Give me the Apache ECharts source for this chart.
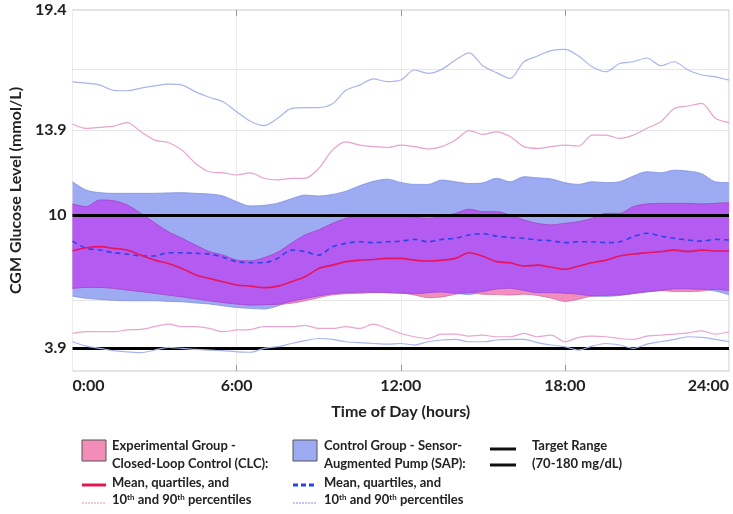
<!DOCTYPE html>
<html>
<head>
<meta charset="utf-8">
<script src="https://cdn.jsdelivr.net/npm/echarts@6/dist/echarts.min.js"></script>
<style>
html,body{margin:0;padding:0;background:#fff;}
#chart{width:733px;height:514px;}
</style>
</head>
<body>
<div id="chart"></div>
<script>
// Time of day (hours)
const hours = [0,0.5,1,1.5,2,2.5,3,3.5,4,4.5,5,5.5,6,6.5,7,7.5,8,8.5,9,9.5,10,10.5,11,11.5,12,12.5,13,13.5,14,14.5,15,15.5,16,16.5,17,17.5,18,18.5,19,19.5,20,20.5,21,21.5,22,22.5,23,23.5,24];

// Control group (SAP)
const sapP90 = [16.11,16.05,15.96,15.72,15.7,15.82,15.92,16.0,15.96,15.65,15.4,15.2,14.74,14.3,14.1,14.44,14.89,14.93,14.93,15.1,15.73,15.96,16.24,16.12,16.19,16.65,16.5,16.68,17.11,17.44,16.85,16.53,16.27,17.03,17.29,17.54,17.6,17.29,16.8,16.57,16.95,17.03,17.2,16.85,17.03,16.65,16.42,16.34,16.19];
const sapP75 = [11.53,11.15,11.03,11.0,11.0,11.0,11.0,11.02,11.03,11.0,10.97,10.88,10.62,10.42,10.45,10.55,10.75,10.92,10.88,10.95,11.1,11.35,11.55,11.65,11.5,11.41,11.41,11.61,11.53,11.45,11.48,11.69,11.53,11.76,11.71,11.66,11.49,11.41,11.53,11.49,11.53,11.79,11.99,11.94,12.06,12.02,11.9,11.53,11.49];
const sapMean = [8.81,8.48,8.4,8.28,8.22,8.13,8.13,8.28,8.28,8.25,8.22,8.07,7.87,7.82,7.82,8.02,8.4,8.33,8.17,8.55,8.71,8.78,8.74,8.78,8.81,8.89,8.78,8.89,8.94,9.09,9.15,9.04,8.98,8.94,8.86,8.83,8.74,8.78,8.78,8.74,8.78,9.01,9.17,9.04,8.94,8.86,8.81,8.89,8.86];
const sapP25 = [6.29,6.19,6.14,6.1,6.08,6.08,6.08,6.05,6.03,5.98,5.93,5.85,5.77,5.73,5.70,5.84,6.05,6.18,6.30,6.40,6.45,6.47,6.47,6.45,6.42,6.40,6.45,6.48,6.42,6.36,6.5,6.62,6.65,6.55,6.45,6.45,6.42,6.38,6.30,6.28,6.32,6.40,6.48,6.55,6.62,6.62,6.6,6.52,6.35];
const sapP10 = [4.2,4.0,3.9,3.79,3.74,3.7,3.82,3.94,3.9,3.85,3.82,3.79,3.74,3.72,3.9,3.97,4.12,4.25,4.35,4.31,4.2,4.16,4.12,4.09,4.12,4.05,4.2,4.28,4.31,4.2,4.2,4.28,4.31,4.31,4.16,4.05,3.97,3.82,4.0,4.12,4.05,3.9,4.09,4.2,4.31,4.43,4.4,4.31,4.2];

// Experimental group (CLC)
const clcP90 = [14.18,13.98,14.02,14.08,14.24,13.82,13.44,13.33,12.98,12.37,11.99,11.94,11.84,11.94,11.69,11.62,11.69,11.69,12.14,12.98,13.36,13.21,13.14,13.1,13.21,13.14,13.03,13.14,13.44,13.87,13.7,13.82,13.6,13.14,13.06,13.14,13.21,13.17,13.67,13.67,13.52,13.67,13.98,14.28,14.89,15.0,15.12,14.44,14.24];
const clcP75 = [10.51,10.39,10.69,10.66,10.46,10.08,9.65,9.24,8.94,8.63,8.33,8.17,7.94,7.9,8.05,8.3,8.71,9.09,9.32,9.62,9.85,9.96,9.93,9.96,9.96,9.9,9.85,9.93,10.08,10.27,10.16,10.16,10.0,9.78,9.62,9.55,9.62,9.7,9.85,10.08,10.08,10.39,10.51,10.54,10.54,10.54,10.51,10.54,10.57];
const clcMean = [8.37,8.51,8.56,8.48,8.4,8.17,7.94,7.79,7.56,7.26,7.1,6.95,6.8,6.75,6.68,6.75,6.95,7.18,7.56,7.71,7.87,7.94,7.97,8.02,8.02,7.94,7.9,7.94,8.02,8.28,8.12,7.87,7.82,7.67,7.71,7.61,7.52,7.67,7.82,7.94,8.13,8.22,8.28,8.33,8.4,8.33,8.4,8.36,8.36];
const clcP25 = [6.65,6.69,6.69,6.65,6.57,6.5,6.42,6.34,6.26,6.17,6.08,6.0,5.93,5.88,5.90,5.92,5.96,6.08,6.22,6.35,6.40,6.42,6.45,6.45,6.44,6.34,6.22,6.25,6.38,6.45,6.38,6.36,6.34,6.38,6.32,6.2,6.05,6.15,6.3,6.33,6.35,6.42,6.5,6.55,6.5,6.5,6.52,6.6,6.55];
const clcP10 = [4.58,4.66,4.66,4.66,4.74,4.77,4.89,5.01,4.89,4.89,4.81,4.66,4.74,4.76,4.89,4.89,4.89,4.95,4.81,4.81,4.89,4.81,5.01,4.81,4.58,4.43,4.35,4.55,4.55,4.46,4.5,4.43,4.43,4.58,4.43,4.5,4.2,4.4,4.46,4.43,4.35,4.31,4.46,4.5,4.55,4.61,4.7,4.55,4.66];

// Axis ticks / reference lines
const yTickLabels = [3.9, 10, 13.9, 19.4];
const targetRange = [3.9, 10];
const yGridValues = [6.1, 13.9, 16.67];

const diff = (a, b) => a.map((v, i) => +(v - b[i]).toFixed(3));
const ovLow = hours.map((h, i) => Math.max(sapP25[i], clcP25[i]));
const ovHigh = hours.map((h, i) => Math.min(sapP75[i], clcP75[i]));

const FONT = 'Lato';
const chart = echarts.init(document.getElementById('chart'), null, {renderer: 'canvas'});

function band(name, low, high, fill, edge, z) {
  return [
    {name: name + 'Low', type: 'line', stack: name, data: low, symbol: 'none', smooth: 0.3, z: z,
      lineStyle: {color: edge, width: 0.8}, silent: true},
    {name: name + 'High', type: 'line', stack: name, data: diff(high, low), symbol: 'none', smooth: 0.3, z: z,
      lineStyle: {color: edge, width: 0.8}, areaStyle: {color: fill, opacity: 1}, silent: true}
  ];
}

const legendText = {fontFamily: FONT, fontWeight: 'bold', fontSize: 13, fill: '#222'};
const rich = {
  n: {fontFamily: FONT, fontWeight: 'bold', fontSize: 13, fill: '#222', color: '#222'},
  s: {fontFamily: FONT, fontWeight: 'bold', fontSize: 8, fill: '#222', color: '#222', verticalAlign: 'top', padding: [0,0,6,0]}
};
const R = [448, 466, 485, 503];
function txt(x, y, t) { return {type: 'text', left: x, top: y - 9, style: Object.assign({text: t}, legendText), silent: true}; }
function rtxt(x, y, t) { return {type: 'text', left: x, top: y - 10, style: {text: t, rich: rich, fontFamily: FONT, fontWeight:'bold', fontSize: 13, fill:'#222'}, silent: true}; }
function ln(x1, x2, y, color, w, dash) { return {type: 'line', shape: {x1: x1, y1: y, x2: x2, y2: y}, style: {stroke: color, lineWidth: w, lineDash: dash || null}, silent: true}; }

const every6h = (idx) => idx % 12 === 0;
const option = {
  animation: false,
  backgroundColor: '#fff',
  grid: {left: 66, right: 4, top: 10, bottom: 143, show: true, borderColor: '#c8c8c8', borderWidth: 1, backgroundColor: 'transparent'},
  xAxis: [{
    type: 'category', data: hours.map(String), boundaryGap: false,
    name: 'Time of Day (hours)', nameLocation: 'middle', nameGap: 33,
    nameTextStyle: {fontFamily: FONT, fontWeight: 'bold', fontSize: 16, color: '#222'},
    axisLine: {show: false},
    axisTick: {show: true, inside: true, length: 6, lineStyle: {color: '#999'}, interval: (i) => i % 12 === 0 && i !== 0 && i !== 48},
    axisLabel: {fontFamily: FONT, fontWeight: 'bold', fontSize: 16, color: '#222', margin: 7,
      interval: every6h, formatter: v => v + ':00', alignMinLabel: 'left', alignMaxLabel: 'right'},
    splitLine: {show: true, interval: every6h, lineStyle: {color: '#ececec', width: 1}}
  }, {
    type: 'category', data: hours.map(String), boundaryGap: false, position: 'top',
    axisLine: {show: false}, axisLabel: {show: false}, splitLine: {show: false},
    axisTick: {show: true, inside: true, length: 6, lineStyle: {color: '#999'}, interval: (i) => i % 12 === 0 && i !== 0 && i !== 48}
  }],
  yAxis: [{
    type: 'value', min: 2.86, max: 19.4,
    name: 'CGM Glucose Level (mmol/L)', nameLocation: 'middle', nameGap: 48,
    nameTextStyle: {fontFamily: FONT, fontWeight: 'bold', fontSize: 16, color: '#222'},
    axisLine: {show: false},
    axisTick: {show: true, inside: true, length: 6, lineStyle: {color: '#999'}, customValues: [16.67]},
    axisLabel: {fontFamily: FONT, fontWeight: 'bold', fontSize: 16, color: '#222', margin: 6, customValues: yTickLabels,
      formatter: v => String(v)},
    splitLine: {show: false}
  }, {
    type: 'value', min: 2.86, max: 19.4, position: 'right',
    axisLine: {show: false}, axisLabel: {show: false}, splitLine: {show: false},
    axisTick: {show: true, inside: true, length: 6, lineStyle: {color: '#999'}, customValues: [13.9, 16.67]}
  }],
  series: [
    {name: 'grid', type: 'line', data: [], z: 1, zlevel: 0, silent: true,
      markLine: {symbol: 'none', silent: true, label: {show: false}, animation: false, z: 1,
        lineStyle: {color: '#e6e6e6', width: 1, type: 'solid'},
        data: yGridValues.map(v => ({yAxis: v}))}},
    ...band('sap', sapP25, sapP75, '#9cabf2', '#7f8fe0', 2),
    ...band('clc', clcP25, clcP75, '#f38dbd', '#d070a8', 3),
    ...band('ovl', ovLow, ovHigh, '#b45cf2', '#9a4ad6', 4),
    {name: 'sapP90', type: 'line', data: sapP90, symbol: 'none', smooth: 0.3, z: 5, lineStyle: {color: '#a9b4ee', width: 1.2}},
    {name: 'sapP10', type: 'line', data: sapP10, symbol: 'none', smooth: 0.3, z: 5, lineStyle: {color: '#a9b4ee', width: 1.2}},
    {name: 'clcP90', type: 'line', data: clcP90, symbol: 'none', smooth: 0.3, z: 5, lineStyle: {color: '#e8a2cc', width: 1.2}},
    {name: 'clcP10', type: 'line', data: clcP10, symbol: 'none', smooth: 0.3, z: 5, lineStyle: {color: '#eaa6cf', width: 1.2}},
    {name: 'target', type: 'line', data: [], z: 6, silent: true,
      markLine: {symbol: 'none', silent: true, label: {show: false}, animation: false,
        lineStyle: {color: '#000', width: 3, type: 'solid'},
        data: targetRange.map(v => ({yAxis: v}))}},
    {name: 'sapMean', type: 'line', data: sapMean, symbol: 'none', smooth: 0.3, z: 7, lineStyle: {color: '#2a44e6', width: 1.6, type: [5, 4]}},
    {name: 'clcMean', type: 'line', data: clcMean, symbol: 'none', smooth: 0.3, z: 7, lineStyle: {color: '#e8145c', width: 1.6}}
  ],
  graphic: [
    {type: 'rect', shape: {x: 82, y: R[0] - 8, width: 24, height: 21}, style: {fill: '#f38db7', stroke: '#555', lineWidth: 1}, silent: true},
    txt(112, R[0], 'Experimental Group -'),
    txt(112, R[1], 'Closed-Loop Control (CLC):'),
    ln(82, 106, R[2], '#e0184f', 3),
    txt(112, R[2], 'Mean, quartiles, and'),
    ln(82, 106, R[3], '#e090c0', 1, [2, 1]),
    rtxt(112, R[3], '{n|10}{s|th}{n| and 90}{s|th}{n| percentiles}'),

    {type: 'rect', shape: {x: 293, y: R[0] - 8, width: 24, height: 21}, style: {fill: '#9cabf2', stroke: '#555', lineWidth: 1}, silent: true},
    txt(324, R[0], 'Control Group - Sensor-'),
    txt(324, R[1], 'Augmented Pump (SAP):'),
    ln(293, 317, R[2], '#2a44e6', 3, [5, 3]),
    txt(324, R[2], 'Mean, quartiles, and'),
    ln(293, 317, R[3], '#8090e0', 1, [2, 1]),
    rtxt(324, R[3], '{n|10}{s|th}{n| and 90}{s|th}{n| percentiles}'),

    ln(490, 516, R[0] + 1, '#111', 3),
    ln(490, 516, R[1] - 1, '#111', 3),
    txt(532, R[0], 'Target Range'),
    txt(532, R[1], '(70-180 mg/dL)')
  ]
};
chart.setOption(option);
</script>
</body>
</html>
